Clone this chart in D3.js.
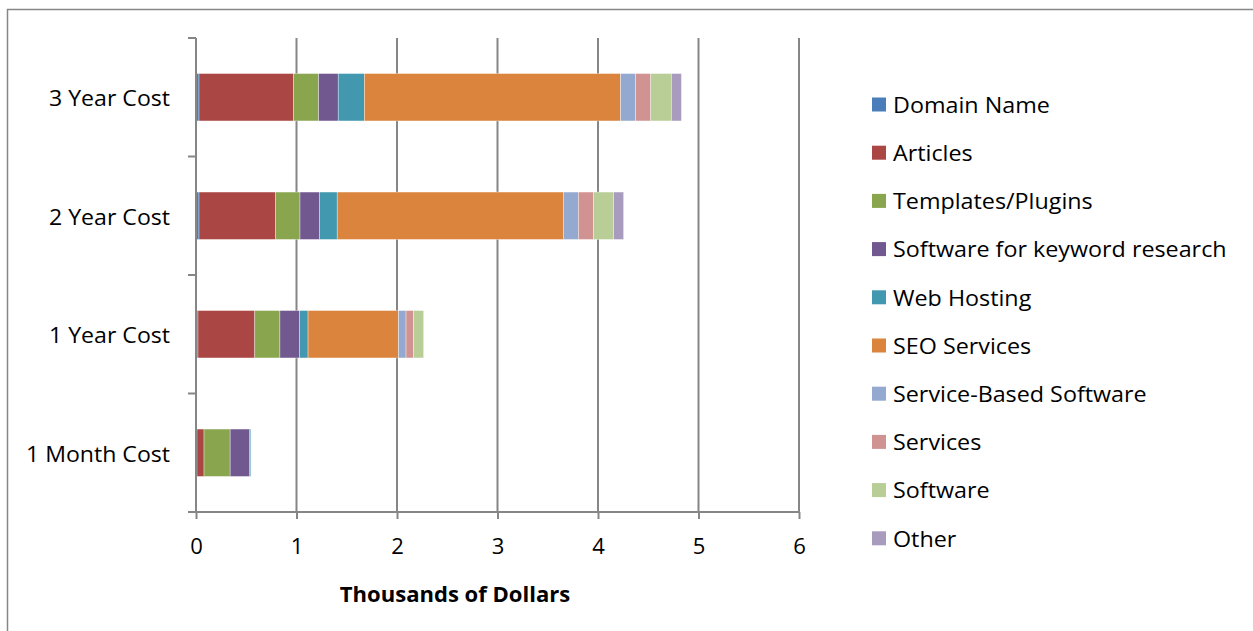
<!DOCTYPE html>
<html><head><meta charset="utf-8">
<script src="https://cdn.jsdelivr.net/npm/d3@7"></script>
<style>body{margin:0;background:#fff}svg{display:block}text{font-family:"Open Sans",sans-serif}</style>
</head><body>
<svg id="c" width="1253" height="631"></svg>
<script>
const categories = ["3 Year Cost", "2 Year Cost", "1 Year Cost", "1 Month Cost"];
const seriesNames = ["Domain Name", "Articles", "Templates/Plugins", "Software for keyword research", "Web Hosting", "SEO Services", "Service-Based Software", "Services", "Software", "Other"];
const seriesColors = ["#4a7ebb", "#aa4643", "#89a54e", "#71588f", "#4198af", "#db843d", "#93a9cf", "#d19392", "#b9cd96", "#a99bbd"];
const domainName = [0.03, 0.03, 0.02, 0.01];
const articles = [0.94, 0.76, 0.565, 0.07];
const templatesPlugins = [0.25, 0.245, 0.25, 0.26];
const keywordSoftware = [0.195, 0.195, 0.195, 0.195];
const webHosting = [0.26, 0.175, 0.085, 0.01];
const seoServices = [2.55, 2.25, 0.9, 0];
const serviceBasedSoftware = [0.15, 0.15, 0.075, 0];
const services = [0.15, 0.15, 0.075, 0];
const software = [0.205, 0.2, 0.1, 0];
const other = [0.1, 0.1, 0, 0];
const xTicks = [0, 1, 2, 3, 4, 5, 6];

(function () {
const FONT = "'Open Sans', sans-serif";
const FS = 21;
const seriesValues = [domainName, articles, templatesPlugins, keywordSoftware, webHosting, seoServices, serviceBasedSoftware, services, software, other];
const rows = categories.map((c, i) => {
  const r = {category: c};
  seriesNames.forEach((s, j) => r[s] = seriesValues[j][i]);
  return r;
});
const stacked = d3.stack().keys(seriesNames)(rows);

const svg = d3.select("#c");
svg.append("rect").attr("x", 7.5).attr("y", 9.5).attr("width", 1260).attr("height", 640)
  .attr("fill", "none").attr("stroke", "#868686").attr("stroke-width", 1.5);

const pL = 196, pR = 799, pT = 38, pB = 512;
const x = d3.scaleLinear().domain([0, 6]).range([pL, pR]);
const y = d3.scaleBand().domain(categories).range([pT, pB]).paddingInner(0.6).paddingOuter(0.3);
const yb = d3.scaleBand().domain(categories).range([pT, pB]);

svg.append("g").selectAll("line").data(xTicks.slice(1)).join("line")
  .attr("x1", d => x(d)).attr("x2", d => x(d)).attr("y1", pT).attr("y2", pB)
  .attr("stroke", "#868686").attr("stroke-width", 2);

svg.append("g").selectAll("g").data(stacked).join("g")
  .attr("fill", (d, i) => seriesColors[i])
  .selectAll("rect").data(d => d).join("rect")
  .attr("x", d => x(d[0])).attr("width", d => Math.max(0, x(d[1]) - x(d[0])))
  .attr("y", d => y(d.data.category)).attr("height", y.bandwidth())
  .attr("stroke", "#fff").attr("stroke-width", 0.6).attr("stroke-opacity", 0.6);

const gx = svg.append("g").attr("transform", `translate(0,${pB})`)
  .call(d3.axisBottom(x).tickValues(xTicks).tickFormat(d3.format("d")).tickSize(7).tickPadding(20).tickSizeOuter(0));
gx.select(".domain").attr("stroke", "#868686").attr("stroke-width", 2).attr("d", `M${pL - 8},0H${pR}`);
gx.selectAll(".tick line").attr("stroke", "#868686").attr("stroke-width", 2);
gx.selectAll(".tick text").attr("font-size", FS).attr("fill", "#000").style("font-family", FONT)
  .attr("transform", "scale(1.05,1)");

const sy = 1.1;
const gy = svg.append("g").attr("transform", `translate(${pL},0)`)
  .call(d3.axisLeft(yb).tickSize(0).tickPadding(26));
gy.select(".domain").attr("stroke", "#868686").attr("stroke-width", 2).attr("d", `M0,${pT}V${pB}`);
gy.selectAll(".tick text").attr("font-size", FS).attr("fill", "#000").style("font-family", FONT)
  .attr("x", -26 / sy).attr("dy", "0.37em").attr("transform", `translate(0,1) scale(${sy},1)`);
gy.append("g").selectAll("line").data([pT, ...categories.map(c => yb(c) + yb.bandwidth())]).join("line")
  .attr("x1", -8).attr("x2", 0).attr("y1", d => d).attr("y2", d => d)
  .attr("stroke", "#868686").attr("stroke-width", 2);

svg.append("text").attr("transform", "translate(455,602) scale(1.05,1)").attr("text-anchor", "middle")
  .attr("font-size", FS).attr("font-weight", "bold").style("font-family", FONT).text("Thousands of Dollars");

const lg = svg.append("g").attr("transform", "translate(872,104.5)");
const items = lg.selectAll("g").data(seriesNames).join("g").attr("transform", (d, i) => `translate(0,${i * 48.2})`);
items.append("rect").attr("x", 0).attr("y", -7).attr("width", 14).attr("height", 14).attr("fill", (d, i) => seriesColors[i]);
items.append("text").attr("transform", "translate(21,1) scale(1.11,1)").attr("dy", "0.35em")
  .attr("font-size", FS).style("font-family", FONT).text(d => d);
})();
</script>
</body></html>
